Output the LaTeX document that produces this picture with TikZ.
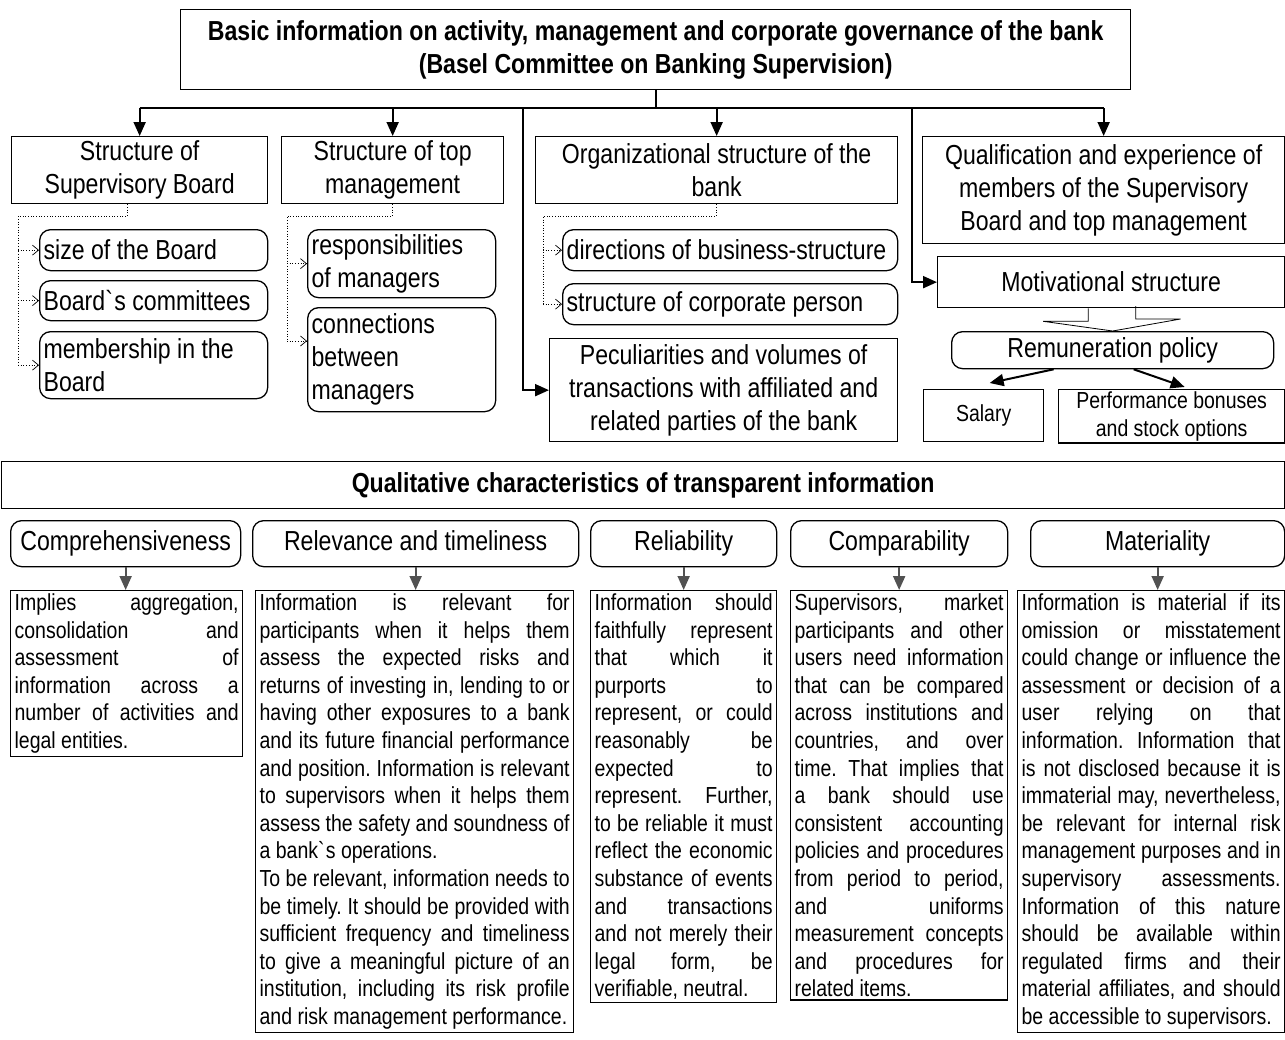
\documentclass[tikz,border=0pt]{standalone}
\usepackage{fontspec}
\setmainfont{Liberation Sans}[FakeStretch=0.84]
\usetikzlibrary{arrows.meta,calc}
\newcommand{\hd}{\fontsize{27.5}{33}\selectfont}
\newcommand{\bd}{\fontsize{23.2}{27.6}\selectfont\frenchspacing\spaceskip=.233em plus .6em minus .08em\parindent=0pt}
\tolerance=10000 \hbadness=10000 \hyphenpenalty=10000 \exhyphenpenalty=10000
\tikzset{
  box/.style={draw,line width=1.3pt,anchor=north west,align=center,inner sep=2pt,font=\hd},
  rbox/.style={box,rounded corners=11pt},
  cbox/.style={rbox,text height=19pt,text depth=6pt},
  lbox/.style={rbox,align=flush left,inner xsep=3pt},
  txt/.style={draw,line width=1.3pt,anchor=north west,align=justify,inner xsep=4pt,inner ysep=3pt,font=\bd},
  bus/.style={line width=2pt},
  arr/.style={bus,-{Triangle[length=14pt,width=12pt]}},
  garr/.style={arr,draw=black!68,fill=black!68},
  dots/.style={dotted,line width=0.7pt},
  darr/.style={dots,-{Straight Barb[length=6pt,width=10pt,line width=0.7pt]}},
  hollow/.style={line width=0.8pt},
}
\begin{document}
\begin{tikzpicture}[x=1pt,y=-1pt]
\useasboundingbox (0,0) rectangle (1285,1039);
% upper part
\node[box,minimum width=950,minimum height=80,font=\hd\bfseries] (top) at (180,9)
  {Basic information on activity, management and corporate governance of the bank\\(Basel Committee on Banking Supervision)};
\node[box,minimum width=256,minimum height=67] (sb) at (11,136) {Structure of\\Supervisory Board};
\node[box,minimum width=222,minimum height=67] (tm) at (281,136) {Structure of top\\management};
\node[box,minimum width=362,minimum height=67] (org) at (535,136) {Organizational structure of the\\bank};
\node[box,minimum width=362,minimum height=107] (qe) at (922,136) {Qualification and experience of\\members of the Supervisory\\Board and top management};
\node[lbox,minimum width=228,minimum height=41,text width=220] (sz) at (39,229) {size of the Board};
\node[lbox,minimum width=228,minimum height=40,text width=220] (cm) at (39,280) {Board\textasciigrave s committees};
\node[lbox,minimum width=228,minimum height=67,text width=220] (mb) at (39,331) {membership in the\\Board};
\node[lbox,minimum width=188,minimum height=68,text width=180] (rs) at (307,229) {responsibilities\\of managers};
\node[lbox,minimum width=188,minimum height=104,text width=180] (cn) at (307,307) {connections\\between\\managers};
\node[lbox,minimum width=335,minimum height=41,text width=327] (dr) at (562,229) {directions of business-structure};
\node[lbox,minimum width=335,minimum height=41,text width=327] (cp) at (562,283) {structure of corporate person};
\node[box,minimum width=348,minimum height=103] (pec) at (549,338) {Peculiarities and volumes of\\transactions with affiliated and\\related parties of the bank};
\node[box,minimum width=347,minimum height=51] (mot) at (937,256) {Motivational structure};
\node[rbox,minimum width=322,minimum height=37] (rem) at (951,331) {Remuneration policy};
\node[box,minimum width=120,minimum height=52,font=\bd] (sal) at (923,389) {Salary};
\node[box,minimum width=226,minimum height=52,font=\bd] (perf) at (1058,389) {Performance bonuses\\and stock options};
% bus and arrows
\coordinate (bus) at (0,108);
\coordinate (b3) at (523,108);
\coordinate (b4) at (912,108);
\draw[bus] (top.south) -- (top.south |- bus);
\draw[bus] (sb.north |- bus) -- (qe.north |- bus);
\foreach \n in {sb,tm,org,qe}{\draw[arr] (\n.north |- bus) -- (\n.north);}
\draw[arr] (b3) |- (pec.west);
\draw[arr] (b4) |- (mot.west);
% dotted links
\coordinate (j1) at (18,216);
\coordinate (j2) at (287,216);
\coordinate (j3) at (543,216);
\coordinate (cnin) at ($(cn.north west)+(0,34)$);
\draw[dots] ($(sb.south)+(-12,0)$) |- (j1) -- (j1 |- mb.west);
\draw[dots] (tm.south) |- (j2) -- (j2 |- cnin);
\draw[dots] (org.south) |- (j3) -- (j3 |- cp.west);
\foreach \n in {sz,cm,mb}{\draw[darr] (j1 |- \n.west) -- (\n.west);}
\draw[darr] (j2 |- rs.west) -- (rs.west);
\draw[darr] (j2 |- cnin) -- (cnin);
\foreach \n in {dr,cp}{\draw[darr] (j3 |- \n.west) -- (\n.west);}
% remuneration
\draw[hollow] ($(mot.south)+(-23,0)$) -- ++(0,13) -- ++(-45,0) -- (rem.north) -- ++(68,-12) -- ++(-45,0) -- ++(0,-13);
\draw[arr] ($(rem.south)+(-59,0)$) -- ($(sal.north)+(6,-6)$);
\draw[arr] ($(rem.south)+(21,0)$) -- ($(perf.north)+(13,-2)$);
% lower part
\node[box,minimum width=1283,minimum height=47,font=\hd\bfseries] (qual) at (1,461) {Qualitative characteristics of transparent information};
\node[cbox,minimum width=230,minimum height=46] (c1) at (10,520) {Comprehensiveness};
\node[cbox,minimum width=326,minimum height=46] (c2) at (252,520) {Relevance and timeliness};
\node[cbox,minimum width=186,minimum height=46] (c3) at (590,520) {Reliability};
\node[cbox,minimum width=217,minimum height=46] (c4) at (790,520) {Comparability};
\node[cbox,minimum width=254,minimum height=46] (c5) at (1030,520) {Materiality};
\node[txt,text width=224] (t1) at (10,590) {Implies aggregation,\linebreak consolidation and\linebreak assessment of\linebreak information across a\linebreak number of activities and\linebreak legal entities.};
\node[txt,text width=310] (t2) at (255,590) {Information is relevant for\linebreak participants when it helps them\linebreak assess the expected risks and\linebreak returns of investing in, lending to or\linebreak having other exposures to a bank\linebreak and its future financial performance\linebreak and position. Information is relevant\linebreak to supervisors when it helps them\linebreak assess the safety and soundness of\linebreak a bank\textasciigrave s operations.\par To be relevant, information needs to\linebreak be timely. It should be provided with\linebreak sufficient frequency and timeliness\linebreak to give a meaningful picture of an\linebreak institution, including its risk profile\linebreak and risk management performance.};
\node[txt,text width=178] (t3) at (590,590) {Information should\linebreak faithfully represent\linebreak that which it\linebreak purports to\linebreak represent, or could\linebreak reasonably be\linebreak expected to\linebreak represent. Further,\linebreak to be reliable it must\linebreak reflect the economic\linebreak substance of events\linebreak and transactions\linebreak and not merely their\linebreak legal form, be\linebreak verifiable, neutral.};
\node[txt,text width=209] (t4) at (790,590) {Supervisors, market\linebreak participants and other\linebreak users need information\linebreak that can be compared\linebreak across institutions and\linebreak countries, and over\linebreak time. That implies that\linebreak a bank should use\linebreak consistent accounting\linebreak policies and procedures\linebreak from period to period,\linebreak and uniforms\linebreak measurement concepts\linebreak and procedures for\linebreak related items.};
\node[txt,text width=259] (t5) at (1017,590) {Information is material if its\linebreak omission or misstatement\linebreak could change or influence the\linebreak assessment or decision of a\linebreak user relying on that\linebreak information. Information that\linebreak is not disclosed because it is\linebreak immaterial may, nevertheless,\linebreak be relevant for internal risk\linebreak management purposes and in\linebreak supervisory assessments.\linebreak Information of this nature\linebreak should be available within\linebreak regulated firms and their\linebreak material affiliates, and should\linebreak be accessible to supervisors.};
\foreach \n in {1,...,5}{\draw[garr] (c\n.south) -- (c\n.south |- t\n.north);}
\end{tikzpicture}
\end{document}
